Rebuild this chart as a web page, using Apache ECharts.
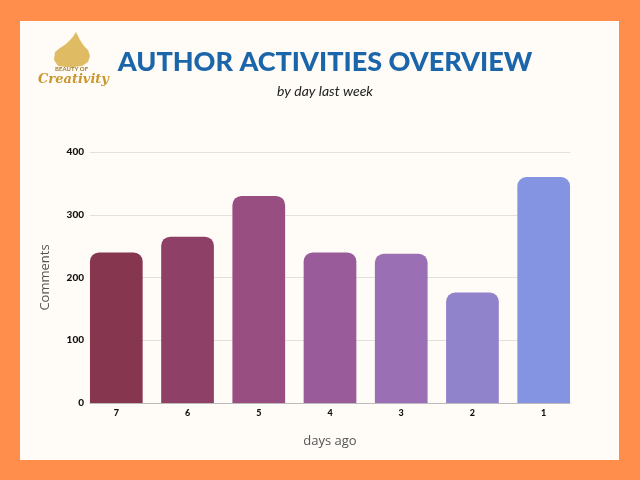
<!DOCTYPE html>
<html>
<head>
<meta charset="utf-8">
<script src="https://cdn.jsdelivr.net/npm/echarts@6/dist/echarts.min.js"></script>
<style>
html,body{margin:0;padding:0;background:#FF8E4C;}
#chart{width:640px;height:480px;}
</style>
</head>
<body>
<div id="chart"></div>
<script>
const categories = ['7', '6', '5', '4', '3', '2', '1'];
const comments = [240, 265, 330, 240, 238, 176, 360];
const barColors = ['#86374F', '#8F4066', '#984E80', '#995B9A', '#9A6FB4', '#9082CB', '#8594E2'];
const yTicks = [0, 100, 200, 300, 400];

const chart = echarts.init(document.getElementById('chart'), null, {renderer: 'canvas'});
const option = {
  backgroundColor: '#FF8E4C',
  animation: false,
  title: [
    {
      text: 'AUTHOR ACTIVITIES OVERVIEW',
      left: 320, top: 44, textAlign: 'center',
      textStyle: {fontFamily: 'Lato', fontWeight: 900, fontSize: 27, color: '#1B66AA'}
    },
    {
      text: 'by day last week',
      left: 320, top: 79, textAlign: 'center',
      textStyle: {fontFamily: 'Lato', fontStyle: 'italic', fontWeight: 'normal', fontSize: 14, color: '#222'}
    }
  ],
  graphic: [
    {type: 'rect', z: -10, shape: {x: 20, y: 21, width: 599, height: 439}, style: {fill: '#FFFBF6'}},
    {type: 'polygon', z: 5, shape: {points: [[76,32],[80,40],[84,46],[88,50],[90,56],[88,62],[82,66],[74,67],[66,67],[58,66],[54,60],[55,52],[60,48],[66,44],[72,38]]},
      style: {fill: '#D9B04A', opacity: 0.85}},
    {type: 'text', z: 6, left: 55, top: 66, style: {text: 'BEAUTY OF', font: 'bold 6px Lato', fill: '#A07A2A'}},
    {type: 'text', z: 6, left: 38, top: 73, style: {text: 'Creativity', font: 'italic bold 13px "DejaVu Serif"', fill: '#C9972E'}}
  ],
  grid: [
    {left: 80.7, right: 60.7, top: 152, bottom: 77},
    {left: 90, right: 70, top: 152, bottom: 77}
  ],
  xAxis: [
    {
      type: 'category', gridIndex: 0, data: categories,
      axisLine: {show: false}, axisTick: {show: false},
      axisLabel: {fontFamily: 'Lato', fontWeight: 900, fontSize: 9, color: '#111', margin: 6},
      name: 'days ago', nameLocation: 'middle', nameGap: 32,
      nameTextStyle: {fontFamily: 'Open Sans', fontSize: 13, color: '#555'}
    },
    {
      type: 'category', gridIndex: 1, data: categories,
      axisLine: {show: true, lineStyle: {color: '#BBBBBB', width: 1}},
      axisTick: {show: false}, axisLabel: {show: false}
    }
  ],
  yAxis: [
    {
      type: 'value', gridIndex: 0, min: 0, max: 400, interval: 100,
      axisLabel: {show: false}, splitLine: {show: false}, axisLine: {show: false}
    },
    {
      type: 'value', gridIndex: 1, min: 0, max: 400, interval: 100,
      axisLine: {show: false}, axisTick: {show: false},
      axisLabel: {fontFamily: 'Lato', fontWeight: 900, fontSize: 10, color: '#111', margin: 6,
        formatter: v => yTicks.includes(v) ? String(v) : ''},
      splitLine: {lineStyle: {color: '#E2E0DC', width: 1}},
      name: 'Comments', nameLocation: 'middle', nameGap: 38, nameRotate: 90,
      nameTextStyle: {fontFamily: 'Open Sans', fontSize: 13, color: '#555'}
    }
  ],
  series: [
    {
      type: 'bar', xAxisIndex: 0, yAxisIndex: 0, z: 3,
      barCategoryGap: '26%',
      data: comments.map((v, i) => ({value: v, itemStyle: {color: barColors[i]}})),
      itemStyle: {borderRadius: [9, 9, 0, 0]}
    }
  ]
};
chart.setOption(option);
</script>
</body>
</html>
